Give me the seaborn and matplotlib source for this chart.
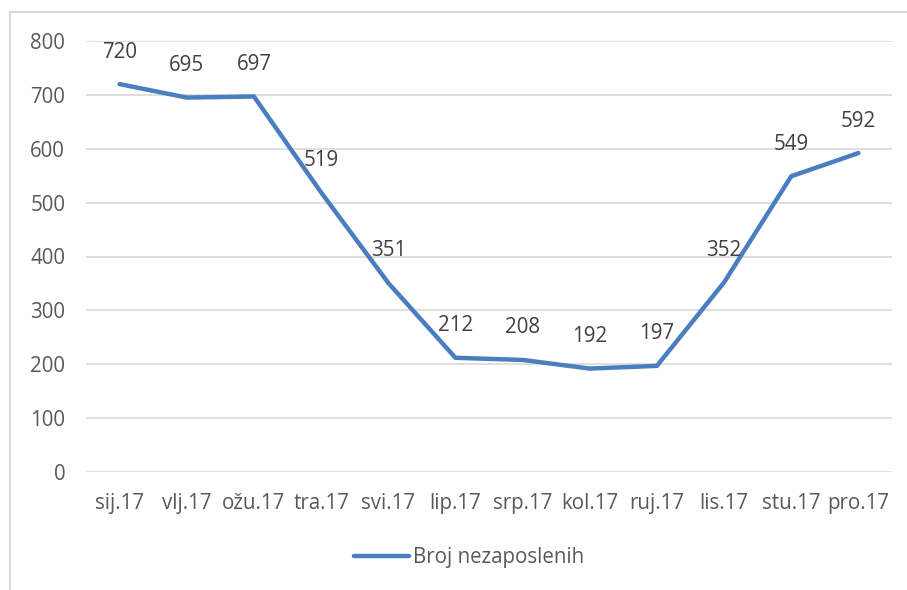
import matplotlib
matplotlib.use('Agg')
import matplotlib.pyplot as plt
import matplotlib.lines as mlines
import pandas as pd
import seaborn as sns

MONTHS = ['sij.17', 'vlj.17', 'ožu.17', 'tra.17', 'svi.17', 'lip.17',
          'srp.17', 'kol.17', 'ruj.17', 'lis.17', 'stu.17', 'pro.17']
UNEMPLOYED = [720, 695, 697, 519, 351, 212, 208, 192, 197, 352, 549, 592]
Y_TICKS = [0, 100, 200, 300, 400, 500, 600, 700, 800]
SERIES_NAME = 'Broj nezaposlenih'

LINE_COLOR = '#4A7EBF'
TEXT_COLOR = '#595959'
GRID_COLOR = '#D9D9D9'

W, H = 907, 590
FS = 14.8


def main() -> None:
    sns.set_theme(style='white')
    plt.rcParams['font.family'] = ['Open Sans', 'DejaVu Sans']

    df = pd.DataFrame({'month': MONTHS, 'value': UNEMPLOYED})

    fig = plt.figure(figsize=(W / 100, H / 100), dpi=100)
    ax = fig.add_axes([86 / W, 1 - 472 / H, (892 - 86) / W, (472 - 41) / H])

    sns.lineplot(data=df, x='month', y='value', ax=ax, color=LINE_COLOR,
                 linewidth=3.2, sort=False, solid_capstyle='round',
                 label=SERIES_NAME, legend=False, clip_on=False)

    ax.set_xlim(-0.5, len(MONTHS) - 0.5)
    ax.set_ylim(0, 800)
    ax.set_yticks(Y_TICKS)
    ax.yaxis.grid(True, color=GRID_COLOR, linewidth=1.2)
    ax.set_axisbelow(True)
    for side in ('top', 'right', 'left', 'bottom'):
        ax.spines[side].set_visible(False)
    ax.tick_params(axis='both', length=0, labelsize=FS, labelcolor=TEXT_COLOR)
    ax.tick_params(axis='y', pad=15)
    ax.tick_params(axis='x', pad=15)
    ax.set_xlabel('')
    ax.set_ylabel('')

    for i, v in enumerate(UNEMPLOYED):
        ax.annotate(str(v), (i, v), textcoords='offset points', xytext=(0, 23),
                    ha='center', va='center', fontsize=FS, color='#404040',
                    annotation_clip=False)

    # chart frame (left and top edges visible)
    fig.add_artist(mlines.Line2D([10 / W, 10 / W], [0, 1 - 12 / H],
                                 transform=fig.transFigure, color=GRID_COLOR, lw=1.5))
    fig.add_artist(mlines.Line2D([10 / W, 1], [1 - 12 / H, 1 - 12 / H],
                                 transform=fig.transFigure, color=GRID_COLOR, lw=1.5))

    handle = mlines.Line2D([], [], color=LINE_COLOR, linewidth=3.2,
                           solid_capstyle='round')
    fig.legend([handle], [SERIES_NAME], loc='center',
               bbox_to_anchor=(469 / W, 1 - 558 / H), frameon=False,
               fontsize=FS, labelcolor=TEXT_COLOR, handlelength=2.7,
               handletextpad=0.2)

    fig.savefig('out.png', dpi=100, facecolor='white')


if __name__ == '__main__':
    main()
